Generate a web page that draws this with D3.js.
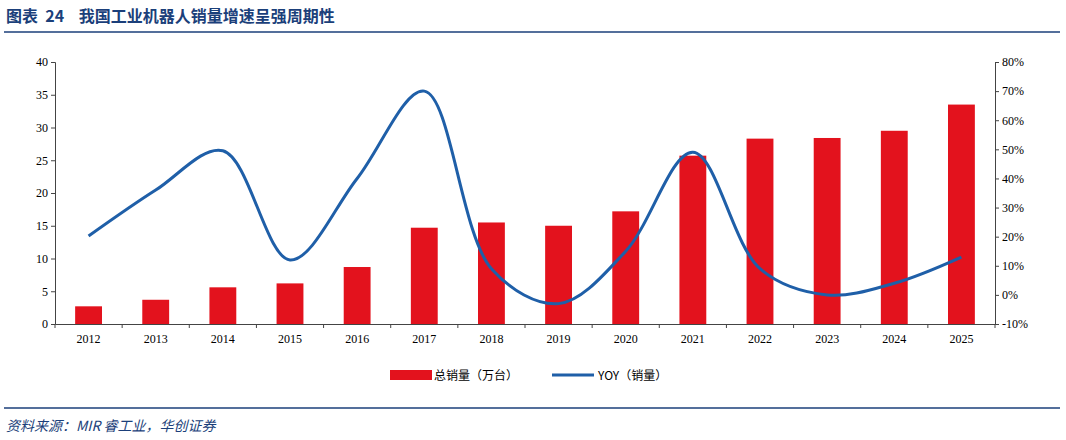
<!DOCTYPE html>
<html><head><meta charset="utf-8">
<script src="https://cdn.jsdelivr.net/npm/d3@7"></script>
<style>body{margin:0;background:#fff;font-family:"Times New Roman","Liberation Serif",serif;}</style>
</head><body>
<script>
const years = ["2012","2013","2014","2015","2016","2017","2018","2019","2020","2021","2022","2023","2024","2025"];
const sales = [2.7,3.7,5.6,6.2,8.7,14.7,15.5,15.0,17.2,25.7,28.3,28.4,29.5,33.5];
const yoy = [20.2,36,49.5,12,40,70,9,-3,15,49,9,0,4,13];
const leftTicks = [0,5,10,15,20,25,30,35,40];
const rightTicks = [-10,0,10,20,30,40,50,60,70,80];

const W = 1066, H = 440;
const svg = d3.select("body").append("svg").attr("width", W).attr("height", H);
const cjk = '"Noto Sans CJK SC",sans-serif';
const blue = "#1f5fa8", red = "#e3121d", navy = "#1b3f7a";

svg.append("text").attr("x", 6).attr("y", 22).attr("font-family", cjk).attr("font-weight", "bold")
    .attr("font-size", 16).attr("fill", navy).style("white-space", "pre")
    .text("图表  24    我国工业机器人销量增速呈强周期性");
svg.append("line").attr("x1", 4).attr("x2", 1060).attr("y1", 32).attr("y2", 32).attr("stroke", navy).attr("stroke-width", 1.5);
svg.append("line").attr("x1", 4).attr("x2", 1060).attr("y1", 408).attr("y2", 408).attr("stroke", navy).attr("stroke-width", 1.5);
svg.append("text").attr("x", 6).attr("y", 431).attr("font-family", cjk).attr("font-style", "italic")
    .attr("font-size", 14).attr("fill", navy).text("资料来源：MIR 睿工业，华创证券");

const x0 = 55, x1 = 995;
const x = d3.scaleBand().domain(years).range([x0, x1]).paddingInner(0.6).paddingOuter(0.3);
const yL = d3.scaleLinear().domain([0, 40]).range([324, 62]);
const yR = d3.scaleLinear().domain([-10, 80]).range([324, 62]);

const axL = svg.append("g").attr("transform", `translate(${x0},0)`)
    .call(d3.axisLeft(yL).tickValues(leftTicks).tickSize(4));
const axR = svg.append("g").attr("transform", `translate(${x1},0)`)
    .call(d3.axisRight(yR).tickValues(rightTicks).tickSize(4).tickFormat(d => d + "%"));
const axB = svg.append("g").attr("transform", "translate(0,324)")
    .call(d3.axisBottom(x).tickSize(0).tickPadding(10));
[axL, axR, axB].forEach(g => {
    g.selectAll("path,line").attr("stroke", "#444");
    g.selectAll("text").attr("font-size", 12).attr("fill", "#000").attr("font-family", "'Liberation Serif',serif");
});
// bottom tick marks between categories
const step = (x1 - x0) / years.length;
svg.append("g").selectAll("line").data(d3.range(years.length + 1)).join("line")
    .attr("x1", i => x0 + i * step).attr("x2", i => x0 + i * step)
    .attr("y1", 324).attr("y2", 328).attr("stroke", "#444");

svg.append("g").selectAll("rect").data(sales).join("rect")
    .attr("x", (d, i) => x(years[i])).attr("width", x.bandwidth())
    .attr("y", d => yL(d)).attr("height", d => yL(0) - yL(d)).attr("fill", red);

const line = d3.line().x((d, i) => x(years[i]) + x.bandwidth() / 2).y(d => yR(d)).curve(d3.curveCatmullRom.alpha(0.5));
svg.append("path").datum(yoy).attr("d", line).attr("fill", "none").attr("stroke", blue).attr("stroke-width", 3);

// legend
const lg = svg.append("g");
lg.append("rect").attr("x", 390).attr("y", 370).attr("width", 42).attr("height", 10).attr("fill", red);
lg.append("text").attr("x", 434).attr("y", 380).attr("font-family", cjk).attr("font-size", 12).text("总销量（万台）");
lg.append("line").attr("x1", 552).attr("x2", 594).attr("y1", 375).attr("y2", 375).attr("stroke", blue).attr("stroke-width", 3);
lg.append("text").attr("x", 598).attr("y", 380).attr("font-family", cjk).attr("font-size", 12).text("YOY（销量）");
</script>
</body></html>
